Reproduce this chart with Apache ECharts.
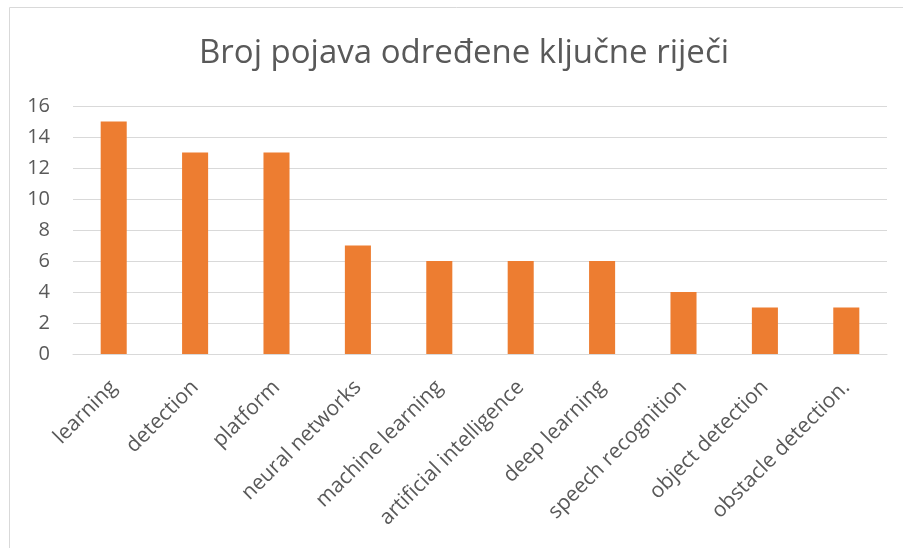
<!DOCTYPE html>
<html lang="hr">
<head>
    <meta charset="UTF-8">
    <title>Broj pojava</title>
    <script src="https://cdn.jsdelivr.net/npm/echarts@6/dist/echarts.min.js"></script>
    <style>
        html, body { margin: 0; padding: 0; background: #fff; }
        #chart { width: 903px; height: 548px; }
    </style>
</head>
<body>
<div id="chart"></div>
<script>
    // podaci
    var categories = ['learning', 'detection', 'platform', 'neural networks', 'machine learning',
        'artificial intelligence', 'deep learning', 'speech recognition', 'object detection', 'obstacle detection.'];
    var counts = [15, 13, 13, 7, 6, 6, 6, 4, 3, 3];
    var yTicks = [0, 2, 4, 6, 8, 10, 12, 14, 16];

    var chart = echarts.init(document.getElementById('chart'));
    var font = 'Open Sans, Noto Sans, sans-serif';

    var option = {
        animation: false,
        title: {
            text: 'Broj pojava određene ključne riječi',
            left: 459,
            top: 32,
            textAlign: 'center',
            textStyle: { fontFamily: font, fontSize: 33, fontWeight: 'normal', color: '#595959' }
        },
        graphic: [{
            type: 'rect',
            shape: { x: 9.5, y: 7.5, width: 1000, height: 1000 },
            style: { fill: 'none', stroke: '#d9d9d9', lineWidth: 1 },
            silent: true
        }],
        grid: { left: 73, right: 16, top: 106, bottom: 194 },
        xAxis: {
            type: 'category',
            data: categories,
            axisTick: { show: false },
            axisLine: { lineStyle: { color: '#d9d9d9', width: 1 } },
            axisLabel: {
                rotate: 45,
                interval: 0,
                margin: 30,
                color: '#595959',
                fontFamily: font,
                fontSize: 21
            }
        },
        yAxis: {
            type: 'value',
            min: yTicks[0],
            max: yTicks[yTicks.length - 1],
            interval: 2,
            axisLine: { show: false },
            axisTick: { show: false },
            splitLine: { lineStyle: { color: '#d9d9d9', width: 1 } },
            axisLabel: { color: '#595959', fontFamily: font, fontSize: 20, margin: 23 }
        },
        series: [{
            type: 'bar',
            data: counts,
            barWidth: '32%',
            itemStyle: { color: '#ED7D31' }
        }]
    };
    chart.setOption(option);
</script>
</body>
</html>
